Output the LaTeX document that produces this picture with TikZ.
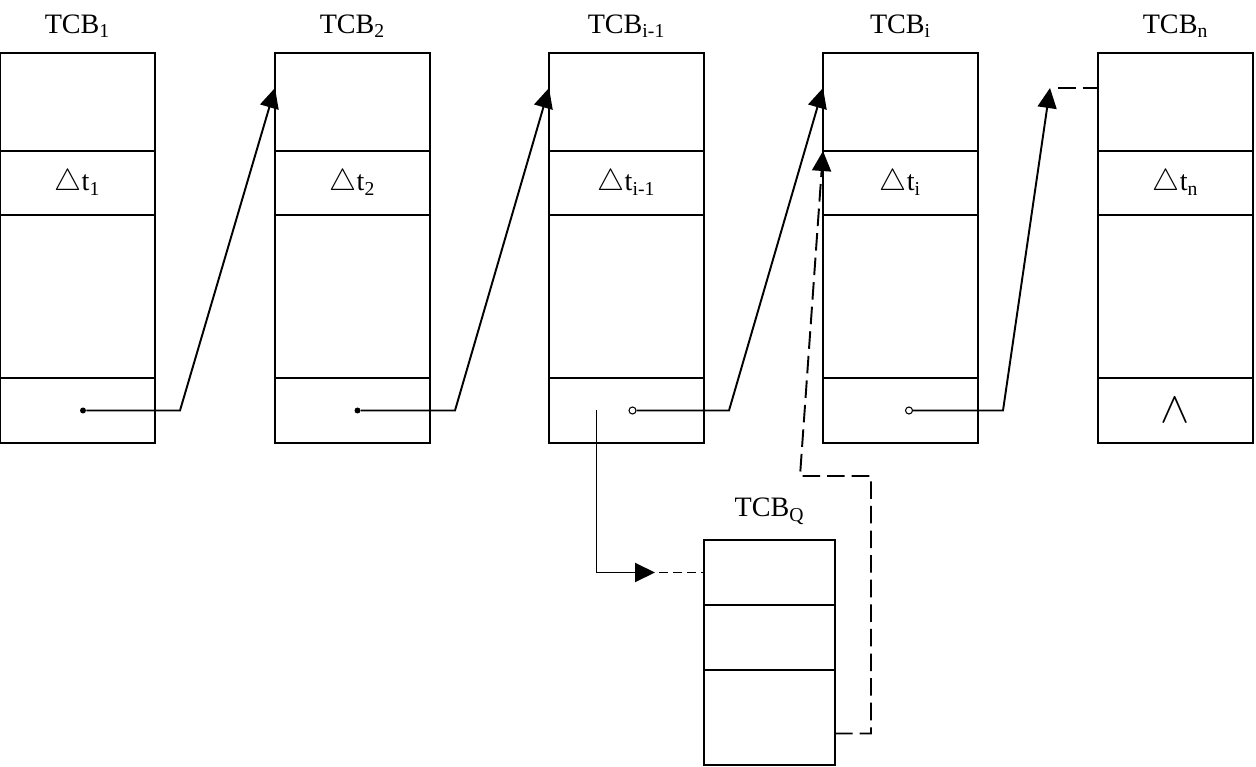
\documentclass[tikz,border=0pt]{standalone}
\usepackage{fontspec}
\setmainfont{Liberation Serif}
\usetikzlibrary{arrows.meta,positioning,calc}

\begin{document}
\begin{tikzpicture}[
  every node/.style={font=\fontsize{16}{19}\selectfont},
  field/.style={
    rectangle, draw, line width=1.2pt,
    inner sep=0pt, outer sep=0pt, minimum width=3.1cm
  },
  topfield/.style={field, minimum height=1.96cm},
  dtfield/.style={field, minimum height=1.28cm},
  midfield/.style={field, minimum height=3.26cm},
  ptrfield/.style={field, minimum height=1.3cm},
  qfield/.style={field, minimum width=2.62cm},
  tcblabel/.style={inner sep=0pt},
  fulldot/.style={circle, fill, inner sep=0pt, minimum size=0.12cm},
  opendot/.style={circle, draw, fill=white, line width=0.6pt, inner sep=0pt, minimum size=0.14cm},
  link/.style={-{Triangle[length=0.4cm, width=0.38cm]}, line width=1.1pt},
  dlink/.style={link, dash pattern=on 10pt off 4pt},
  dline/.style={line width=1.1pt, dash pattern=on 10pt off 4pt},
  shortdline/.style={line width=1.1pt, dash pattern=on 5pt off 3pt},
]
\useasboundingbox (0,0) rectangle (25.12,-15.34);

% --- TCB chain ---
\foreach \id/\px/\sub in {1/0/1, 2/5.5/2, p/10.98/{i-1}, i/16.46/i, n/21.96/n} {
  \node[topfield, anchor=north west] (top-\id) at (\px,-1.06) {};
  \node[dtfield, below=0pt of top-\id] (dt-\id) {$\triangle$t\textsubscript{\sub}};
  \node[midfield, below=0pt of dt-\id] (mid-\id) {};
  \node[ptrfield, below=0pt of mid-\id] (ptr-\id) {};
  \node[tcblabel, above=0.3cm of top-\id] (lab-\id) {TCB\textsubscript{\sub}};
}

% end of list
\node[font=\fontsize{26}{30}\selectfont] (nil) at (ptr-n) {$\wedge$};

% --- TCB_Q ---
\node[qfield, minimum height=1.3cm, anchor=north west] (qa) at (14.08,-10.8) {};
\node[qfield, minimum height=1.3cm, below=0pt of qa] (qb) {};
\node[qfield, minimum height=1.9cm, below=0pt of qb] (qc) {};
\node[tcblabel, above=0.3cm of qa] (lab-q) {TCB\textsubscript{Q}};

% --- pointer dots ---
\node[fulldot] (d1) at ($(ptr-1.center)+(0.11,0)$) {};
\node[fulldot] (d2) at ($(ptr-2.center)+(0.1,0)$) {};
\node[opendot] (dp) at ($(ptr-p.center)+(0.12,0)$) {};
\node[opendot] (di) at ($(ptr-i.center)+(0.17,0)$) {};

% --- next pointers ---
\draw[link] (d1) -- ($(ptr-1.east)+(0.5,0)$) -- ($(top-2.north west)!0.357!(top-2.south west)$);
\draw[link] (d2) -- ($(ptr-2.east)+(0.5,0)$) -- ($(top-p.north west)!0.357!(top-p.south west)$);
\draw[link] (dp) -- ($(ptr-p.east)+(0.5,0)$) -- ($(top-i.north west)!0.357!(top-i.south west)$);

\coordinate (ntip) at ($(top-n.north west)!0.357!(top-n.south west)+(-0.96,0)$);
\draw[link] (di) -- ($(ptr-i.east)+(0.5,0)$) -- (ntip);
\draw[dline] ($(ntip)+(0.16,0)$) -- (ntip -| top-n.west);

% --- insertion of TCB_Q ---
\coordinate (qstart) at ($(ptr-p.center)+(-0.6,0)$);
\coordinate (qtip) at ($(qa.west)+(-0.98,0)$);
\draw[link] (qstart) |- (qtip);
\draw[shortdline] ($(qtip)+(0.08,0)$) -- (qa.west);

\coordinate (qout) at ($(qc.east)+(0,-0.32)$);
\coordinate (ret) at (16.0,-9.52);
\draw[dlink] (qout) -- ++(0.72,0) |- (ret) -- (dt-i.north west);

\end{tikzpicture}
\end{document}
